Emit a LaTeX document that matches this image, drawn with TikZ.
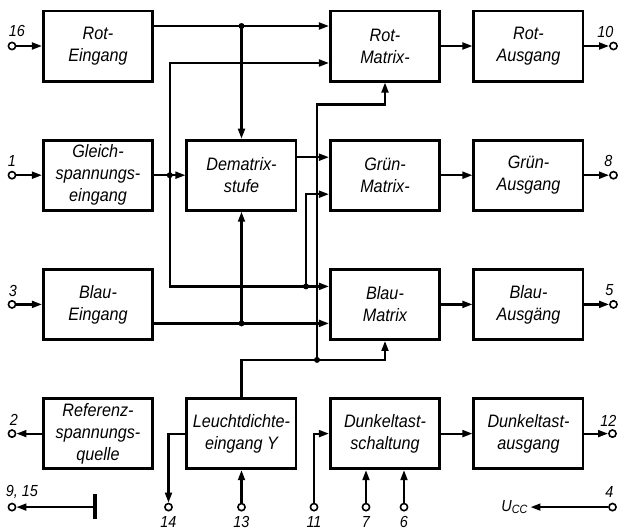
\documentclass[tikz,border=0pt]{standalone}
\usepackage{fontspec}
\setmainfont{Liberation Sans}[FakeStretch=0.9]
\usetikzlibrary{arrows.meta,positioning,calc}

\begin{document}
\begin{tikzpicture}[
  font=\fontsize{9}{11}\selectfont\itshape,
  line width=1.1pt,
  >={Triangle[length=5pt,width=3.4pt]},
  blk/.style={draw, line width=1.4pt, align=center, inner sep=2pt, minimum width=54.6pt, minimum height=35.1pt},
  term/.style={draw, circle, fill=white, line width=0.8pt, inner sep=0pt, minimum size=3.6pt},
  lbl/.style={font=\fontsize{8}{9}\selectfont\itshape, inner sep=1pt}
]
\useasboundingbox (-49pt,23pt) rectangle (260pt,-242.5pt);
% Bloecke
\node[blk] (reing) {Rot-\\Eingang};
\node[blk, below=28.1pt of reing] (gleich) {Gleich-\\spannungs-\\eingang};
\node[blk, below=28.1pt of gleich] (being) {Blau-\\Eingang};
\node[blk, below=28.1pt of being] (ref) {Referenz-\\spannungs-\\quelle};
\node[blk, right=15.75pt of gleich] (demat) {Dematrix-\\stufe};
\node[blk, right=15.75pt of ref] (leucht) {Leuchtdichte-\\eingang Y};
\node[blk, right=15.75pt of demat] (gmat) {Grün-\\Matrix-};
\node[blk, above=28.1pt of gmat] (rmat) {Rot-\\Matrix-};
\node[blk, below=28.1pt of gmat] (bmat) {Blau-\\Matrix};
\node[blk, right=15.75pt of leucht] (dunkel) {Dunkeltast-\\schaltung};
\node[blk, right=15.75pt of rmat] (rausg) {Rot-\\Ausgang};
\node[blk, right=15.75pt of gmat] (gausg) {Grün-\\Ausgang};
\node[blk, right=15.75pt of bmat] (bausg) {Blau-\\Ausgäng};
\node[blk, right=15.75pt of dunkel] (dausg) {Dunkeltast-\\ausgang};
% Anschluesse links
\node[term] (p16) at ($(reing.west)+(-15pt,0)$) {};
\node[term] (p1) at ($(gleich.west)+(-15pt,0)$) {};
\node[term] (p3) at ($(being.west)+(-15pt,0)$) {};
\node[term] (p2) at ($(ref.west)+(-15pt,0)$) {};
\draw[->] (p16) -- (reing.west);
\draw[->] (p1) -- (gleich.west);
\draw[->] (p3) -- (being.west);
\draw[->] (ref.west) -- (p2);
% Anschluesse rechts
\node[term] (p10) at ($(rausg.east)+(14.5pt,0)$) {};
\node[term] (p8) at ($(gausg.east)+(14.5pt,0)$) {};
\node[term] (p5) at ($(bausg.east)+(14.5pt,0)$) {};
\node[term] (p12) at ($(dausg.east)+(14pt,0)$) {};
\draw[->] (rausg.east) -- (p10);
\draw[->] (gausg.east) -- (p8);
\draw[->] (bausg.east) -- (p5);
\draw[->] (dausg.east) -- (p12);
\draw[->] (rmat) -- (rausg);
\draw[->] (gmat) -- (gausg);
\draw[->] (bmat) -- (bausg);
\draw[->] (dunkel) -- (dausg);
% Rot-Eingang
\coordinate (ra) at ([yshift=10pt]reing.east);
\draw[->] (ra) -- (ra -| rmat.west);
\fill (ra -| demat.north) circle (1.5pt);
\draw[->] (ra -| demat.north) -- (demat.north);
% Gleichspannung
\coordinate (j1) at ($(gleich.east)!0.5!(demat.west)$);
\coordinate (rb) at ([yshift=-8.5pt]rmat.west);
\coordinate (gb) at ([yshift=-9.5pt]gmat.west);
\coordinate (bb) at ([yshift=9pt]bmat.west);
\coordinate (jb) at ([xshift=-11.5pt]bb);
\draw[->] (gleich.east) -- (demat.west);
\draw[->] (j1) |- (rb);
\draw[->] (j1) |- (bb);
\draw[->] (jb) |- (gb);
\fill (j1) circle (1.5pt);
\fill (jb) circle (1.5pt);
% Dematrix
\coordinate (ga) at ([yshift=9pt]gmat.west);
\draw[->] (ga -| demat.east) -- (ga);
% Blau-Eingang
\coordinate (bc) at ([yshift=-9.5pt]bmat.west);
\draw[->] (bc -| being.east) -- (bc);
\fill (bc -| demat.south) circle (1.5pt);
\draw[->] (bc -| demat.south) -- (demat.south);
% Leuchtdichte
\coordinate (yb) at ([yshift=-9.5pt]bmat.south);
\coordinate (jy) at ($(yb -| gmat.west)+(-6pt,0)$);
\coordinate (ry) at ([yshift=-11pt]rmat.south);
\draw[->] (leucht.north) |- (yb) -- (bmat.south);
\draw[->] (jy) |- (ry) -- (rmat.south);
\fill (jy) circle (1.5pt);
% Anschluesse unten
\node[term] (p14) at ($(leucht.south west)+(-8.5pt,-18.5pt)$) {};
\node[term] (p13) at ($(leucht.south)+(0,-18.5pt)$) {};
\node[term] (p11) at ($(dunkel.south west)+(-7.5pt,-18.5pt)$) {};
\node[term] (p7) at ($(dunkel.south)+(-9.5pt,-18.5pt)$) {};
\node[term] (p6) at ($(dunkel.south)+(9.5pt,-18.5pt)$) {};
\draw[->] (leucht.west) -| (p14);
\draw[->] (p13) -- (leucht.south);
\draw[->] (p11) |- (dunkel.west);
\draw[->] (p7) -- (p7 |- dunkel.south);
\draw[->] (p6) -- (p6 |- dunkel.south);
% Masse und Betriebsspannung
\node[term] (p915) at (p2 |- p14) {};
\coordinate (gnd) at ($(p915)+(41.5pt,0)$);
\draw[line width=1.8pt] ([yshift=6.5pt]gnd) -- ([yshift=-6pt]gnd);
\draw[->] (gnd) -- (p915);
\node[term] (p4) at (p12 |- p14) {};
\node[lbl, anchor=east, inner sep=0.5pt] (ucc) at ($(p4)+(-41pt,0)$) {U\textsubscript{CC}};
\draw[->] (p4) -- (ucc);
% Nummern
\node[lbl] (l16) at ($(p16)+(2.5pt,7.5pt)$) {16};
\node[lbl] (l1) at ($(p1)+(0,7pt)$) {1};
\node[lbl] (l3) at ($(p3)+(0.5pt,6.5pt)$) {3};
\node[lbl] (l2) at ($(p2)+(1pt,7pt)$) {2};
\node[lbl] (l915) at ($(p915)+(5pt,7.5pt)$) {9, 15};
\node[lbl] (l10) at ($(p10)+(-4pt,7pt)$) {10};
\node[lbl] (l8) at ($(p8)+(-2.5pt,7pt)$) {8};
\node[lbl] (l5) at ($(p5)+(-2pt,7pt)$) {5};
\node[lbl] (l12) at ($(p12)+(-2pt,6.5pt)$) {12};
\node[lbl] (l4) at ($(p4)+(-1.5pt,7.5pt)$) {4};
\node[lbl] (l14) at ($(p14)+(0,-7.5pt)$) {14};
\node[lbl] (l13) at ($(p13)+(0,-7.5pt)$) {13};
\node[lbl] (l11) at ($(p11)+(0,-7.5pt)$) {11};
\node[lbl] (l7) at ($(p7)+(0,-7.5pt)$) {7};
\node[lbl] (l6) at ($(p6)+(0,-7.5pt)$) {6};
\end{tikzpicture}
\end{document}
